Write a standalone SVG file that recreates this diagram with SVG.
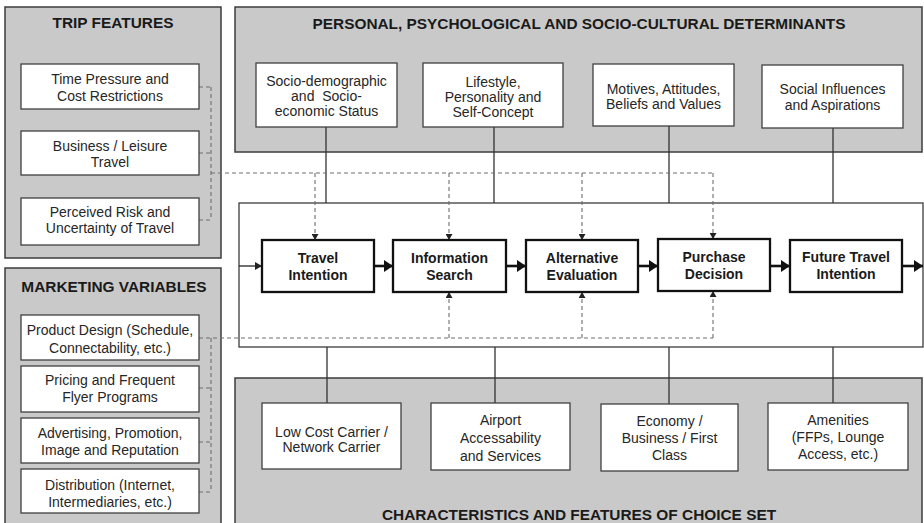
<svg xmlns="http://www.w3.org/2000/svg" width="924" height="523" viewBox="0 0 924 523">
  <style>
    .panel { fill: #c9c9c9; stroke: #3c3c3c; stroke-width: 1.5; }
    .box { fill: #ffffff; stroke: #404040; stroke-width: 1.3; }
    .stage { fill: #ffffff; stroke: #111111; stroke-width: 2.3; }
    .frame { fill: #ffffff; stroke: #3c3c3c; stroke-width: 1.3; }
    .title { font-family: "Liberation Sans", Arial, sans-serif; font-size: 15.4px; font-weight: bold; fill: #1a1a1a; text-anchor: middle; }
    .label { font-family: "Liberation Sans", Arial, sans-serif; font-size: 14px; fill: #262626; text-anchor: middle; white-space: pre; }
    .stagelabel { font-family: "Liberation Sans", Arial, sans-serif; font-size: 14px; font-weight: bold; fill: #1a1a1a; text-anchor: middle; }
    .solid { fill: none; stroke: #333333; stroke-width: 1.3; }
    .dash { fill: none; stroke: #6e6e6e; stroke-width: 1.1; stroke-dasharray: 4 3; }
    .flow { fill: none; stroke: #111111; stroke-width: 2.6; }
    .feed { fill: none; stroke: #222222; stroke-width: 1.3; }
  </style>
  <defs>
    <marker id="headBig" markerUnits="userSpaceOnUse" markerWidth="10" markerHeight="12" refX="9" refY="6" orient="auto">
      <path d="M0,0 L9,6 L0,12 Z" fill="#111111"/>
    </marker>
    <marker id="headSmall" markerUnits="userSpaceOnUse" markerWidth="8" markerHeight="8" refX="7" refY="4" orient="auto">
      <path d="M0,0 L7,4 L0,8 Z" fill="#222222"/>
    </marker>
    <marker id="headDash" markerUnits="userSpaceOnUse" markerWidth="7" markerHeight="7" refX="6" refY="3.5" orient="auto">
      <path d="M0,0 L6,3.5 L0,7 Z" fill="#222222"/>
    </marker>
  </defs>

  <!-- background panels -->
  <g id="trip-features">
    <rect class="panel" x="5" y="7" width="216" height="251"/>
    <text class="title" x="113" y="28">TRIP FEATURES</text>
  </g>
  <g id="marketing-variables">
    <rect class="panel" x="5" y="268" width="216" height="270"/>
    <text class="title" x="114" y="292">MARKETING VARIABLES</text>
  </g>
  <g id="determinants">
    <rect class="panel" x="235" y="7" width="687" height="145"/>
    <text class="title" x="579" y="29">PERSONAL, PSYCHOLOGICAL AND SOCIO-CULTURAL DETERMINANTS</text>
  </g>
  <g id="choice-set">
    <rect class="panel" x="235" y="378" width="687" height="160"/>
    <text class="title" x="579" y="520">CHARACTERISTICS AND FEATURES OF CHOICE SET</text>
  </g>
  <g id="decision-process">
    <rect class="frame" x="239" y="203" width="684" height="144"/>
  </g>

  <!-- connectors -->
  <g id="connectors">
    <!-- determinants to process frame -->
    <path class="solid" d="M326,127 V203 M494,127 V203 M669,126 V203 M833,128 V203"/>
    <!-- choice set to process frame -->
    <path class="solid" d="M327,347 V403 M495,347 V403 M669,347 V404 M833,347 V403"/>

    <!-- trip features bus -->
    <path class="dash" d="M199,87 H211 M199,153 H211 M199,220 H211 M211,87 V220 M211,173 H713"/>
    <path class="dash" marker-end="url(#headDash)" d="M315,173 V240"/>
    <path class="dash" marker-end="url(#headDash)" d="M449,173 V240"/>
    <path class="dash" marker-end="url(#headDash)" d="M582,173 V240"/>
    <path class="dash" marker-end="url(#headDash)" d="M713,173 V239"/>

    <!-- marketing variables bus -->
    <path class="dash" d="M199,338 H713 M199,388 H211 M199,442 H211 M199,492 H211 M211,338 V492"/>
    <path class="dash" marker-end="url(#headDash)" d="M449,338 V292"/>
    <path class="dash" marker-end="url(#headDash)" d="M582,338 V292"/>
    <path class="dash" marker-end="url(#headDash)" d="M713,338 V291"/>

    <!-- stage flow -->
    <path class="feed" marker-end="url(#headSmall)" d="M239,266 H262"/>
    <path class="flow" marker-end="url(#headBig)" d="M374,266 H393"/>
    <path class="flow" marker-end="url(#headBig)" d="M506,266 H526"/>
    <path class="flow" marker-end="url(#headBig)" d="M638,266 H658"/>
    <path class="flow" marker-end="url(#headBig)" d="M770,266 H790"/>
    <path class="flow" marker-end="url(#headBig)" d="M902,266 H923"/>
  </g>

  <!-- trip feature items -->
  <g id="time-pressure">
    <rect class="box" x="21" y="64" width="178" height="45"/>
    <text class="label" x="110" y="84">Time Pressure and<tspan x="110" y="101">Cost Restrictions</tspan></text>
  </g>
  <g id="business-leisure">
    <rect class="box" x="21" y="131" width="178" height="44"/>
    <text class="label" x="110" y="151">Business / Leisure<tspan x="110" y="167">Travel</tspan></text>
  </g>
  <g id="perceived-risk">
    <rect class="box" x="21" y="198" width="178" height="47"/>
    <text class="label" x="110" y="217">Perceived Risk and<tspan x="110" y="233">Uncertainty of Travel</tspan></text>
  </g>

  <!-- marketing items -->
  <g id="product-design">
    <rect class="box" x="21" y="315" width="178" height="45"/>
    <text class="label" x="110" y="335">Product Design (Schedule,<tspan x="110" y="353">Connectability, etc.)</tspan></text>
  </g>
  <g id="pricing">
    <rect class="box" x="21" y="366" width="178" height="46"/>
    <text class="label" x="110" y="385">Pricing and Frequent<tspan x="110" y="402">Flyer Programs</tspan></text>
  </g>
  <g id="advertising">
    <rect class="box" x="21" y="418" width="178" height="45"/>
    <text class="label" x="110" y="438">Advertising, Promotion,<tspan x="110" y="455">Image and Reputation</tspan></text>
  </g>
  <g id="distribution">
    <rect class="box" x="21" y="469" width="178" height="44"/>
    <text class="label" x="110" y="490">Distribution (Internet,<tspan x="110" y="507">Intermediaries, etc.)</tspan></text>
  </g>

  <!-- determinant items -->
  <g id="socio-demographic">
    <rect class="box" x="256" y="63" width="141" height="64"/>
    <text class="label" x="326.5" y="86">Socio-demographic<tspan x="326.5" y="101">and  Socio-</tspan><tspan x="326.5" y="116">economic Status</tspan></text>
  </g>
  <g id="lifestyle">
    <rect class="box" x="423" y="63" width="140" height="64"/>
    <text class="label" x="493" y="87">Lifestyle,<tspan x="493" y="102">Personality and</tspan><tspan x="493" y="117">Self-Concept</tspan></text>
  </g>
  <g id="motives">
    <rect class="box" x="593" y="64" width="141" height="62"/>
    <text class="label" x="663.5" y="94">Motives, Attitudes,<tspan x="663.5" y="109">Beliefs and Values</tspan></text>
  </g>
  <g id="social-influences">
    <rect class="box" x="762" y="65" width="141" height="63"/>
    <text class="label" x="832.5" y="94">Social Influences<tspan x="832.5" y="110">and Aspirations</tspan></text>
  </g>

  <!-- decision stages -->
  <g id="travel-intention">
    <rect class="stage" x="262" y="240" width="112" height="52"/>
    <text class="stagelabel" x="318" y="263">Travel<tspan x="318" y="280">Intention</tspan></text>
  </g>
  <g id="information-search">
    <rect class="stage" x="393" y="240" width="113" height="52"/>
    <text class="stagelabel" x="449.5" y="263">Information<tspan x="449.5" y="280">Search</tspan></text>
  </g>
  <g id="alternative-evaluation">
    <rect class="stage" x="526" y="240" width="112" height="52"/>
    <text class="stagelabel" x="582" y="263">Alternative<tspan x="582" y="280">Evaluation</tspan></text>
  </g>
  <g id="purchase-decision">
    <rect class="stage" x="658" y="239" width="112" height="52"/>
    <text class="stagelabel" x="714" y="262">Purchase<tspan x="714" y="279">Decision</tspan></text>
  </g>
  <g id="future-travel-intention">
    <rect class="stage" x="790" y="240" width="112" height="52"/>
    <text class="stagelabel" x="846" y="262">Future Travel<tspan x="846" y="279">Intention</tspan></text>
  </g>

  <!-- choice set items -->
  <g id="carrier-type">
    <rect class="box" x="262" y="403" width="139" height="66"/>
    <text class="label" x="331.5" y="437">Low Cost Carrier /<tspan x="331.5" y="452">Network Carrier</tspan></text>
  </g>
  <g id="airport">
    <rect class="box" x="431" y="403" width="139" height="67"/>
    <text class="label" x="500.5" y="425">Airport<tspan x="500.5" y="443">Accessability</tspan><tspan x="500.5" y="461">and Services</tspan></text>
  </g>
  <g id="cabin-class">
    <rect class="box" x="601" y="404" width="137" height="67"/>
    <text class="label" x="669.5" y="426">Economy /<tspan x="669.5" y="443">Business / First</tspan><tspan x="669.5" y="460">Class</tspan></text>
  </g>
  <g id="amenities">
    <rect class="box" x="768" y="403" width="140" height="67"/>
    <text class="label" x="838" y="425">Amenities<tspan x="838" y="442">(FFPs, Lounge</tspan><tspan x="838" y="459">Access, etc.)</tspan></text>
  </g>
</svg>
